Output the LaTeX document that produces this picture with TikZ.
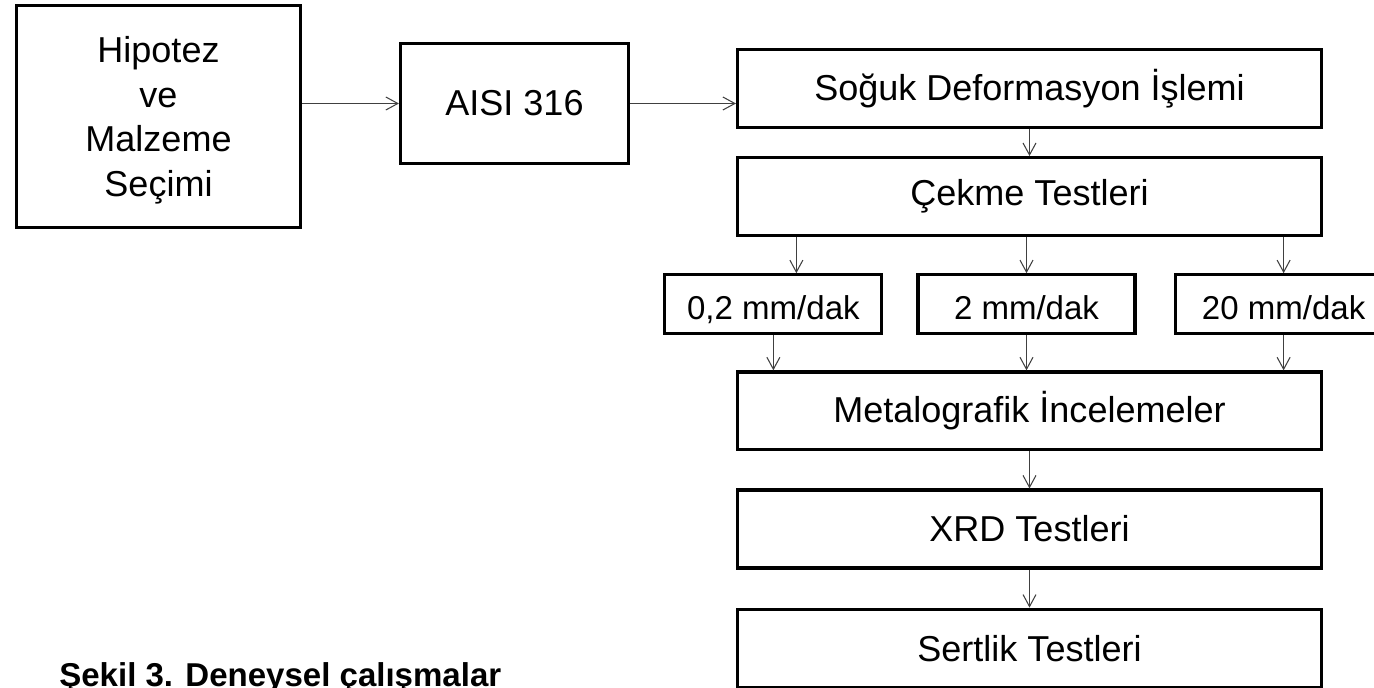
\documentclass[tikz,border=0pt]{standalone}
\usepackage{fontspec}
\setmainfont{Liberation Sans}
\usetikzlibrary{positioning,arrows.meta}
\tikzset{
  blok/.style={draw=black, line width=1.8pt, align=center, inner sep=0pt,
    font=\fontsize{20.5}{25.5}\selectfont},
  buyuk/.style={blok, minimum width=11.68cm, minimum height=1.56cm},
  hiz/.style={blok, minimum width=4.34cm, minimum height=1.18cm,
    text height=0.6cm, text depth=0cm, font=\fontsize{18.8}{22}\selectfont},
  ok/.style={draw=black!75, line width=0.6pt,
    -{Straight Barb[length=0.24cm,width=0.26cm]}}
}

\begin{document}
\begin{tikzpicture}[x=0.02cm, y=-0.02cm]
    \useasboundingbox (0,0) rectangle (1374,688);

    \node[blok, minimum width=5.68cm, minimum height=4.44cm, text depth=0pt] (hip) at (158.5,116.5) {Hipotez\\ve\\Malzeme\\Seçimi};
    \node[blok, minimum width=4.56cm, minimum height=2.40cm] (aisi) at (514.5,103.5) {AISI 316};

    \node[buyuk] (sog) at (1029.5,88.5) {Soğuk Deformasyon İşlemi};
    \node[buyuk, below=0.54cm of sog] (cek) {Çekme Testleri};

    \node[hiz, below=0.72cm of cek, xshift=-0.06cm] (v2) {2 mm/dak};
    \node[hiz, left=0.66cm of v2] (v1) {0,2 mm/dak};
    \node[hiz, right=0.74cm of v2] (v3) {20 mm/dak};

    \node[buyuk, below=0.70cm of v2, xshift=0.06cm] (met) {Metalografik İncelemeler};
    \node[buyuk, below=0.74cm of met] (xrd) {XRD Testleri};
    \node[buyuk, below=0.76cm of xrd] (ser) {Sertlik Testleri};

    \node[anchor=base west, inner sep=0pt, font=\bfseries\fontsize{18.8}{22}\selectfont] (sekil) at (59,687) {Şekil 3. Deneysel çalışmalar};

    \draw[ok] (hip.east |- aisi.west) -- (aisi.west);
    \draw[ok] (aisi.east) -- (aisi.east -| sog.west);
    \draw[ok] (sog) -- (cek);

    \draw[ok] ([xshift=0.46cm]v1.north |- cek.south) -- ([xshift=0.46cm]v1.north);
    \draw[ok] (v2.north |- cek.south) -- (v2.north);
    \draw[ok] (v3.north |- cek.south) -- (v3.north);

    \draw[ok] (v1.south) -- (v1.south |- met.north);
    \draw[ok] (v2.south) -- (v2.south |- met.north);
    \draw[ok] (v3.south) -- (v3.south |- met.north);

    \draw[ok] (met) -- (xrd);
    \draw[ok] (xrd) -- (ser);
\end{tikzpicture}
\end{document}
